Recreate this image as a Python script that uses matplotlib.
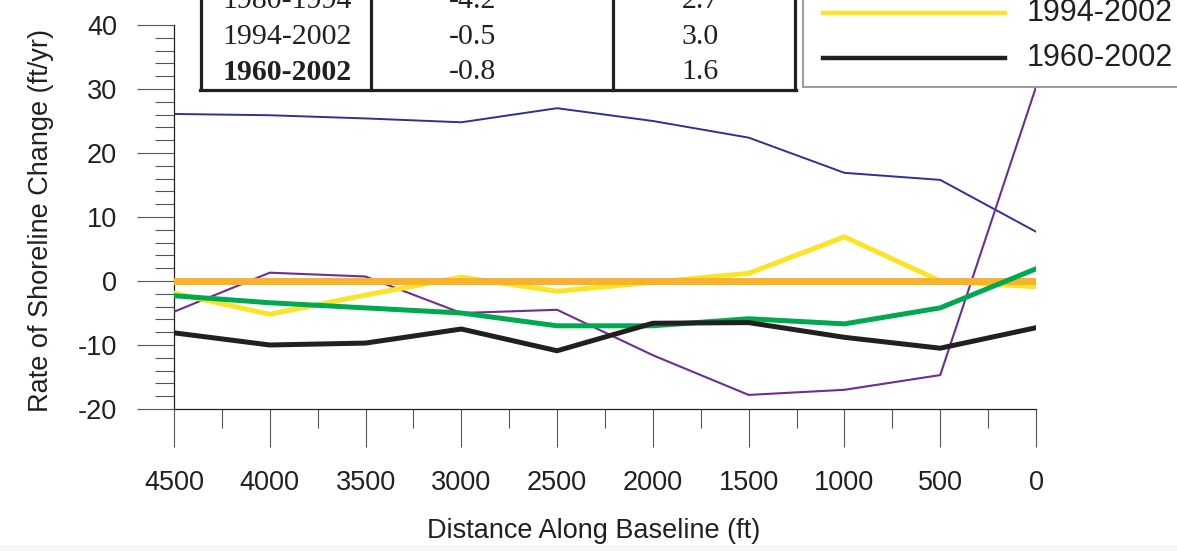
import matplotlib
matplotlib.use('Agg')
import matplotlib.pyplot as plt
from matplotlib.lines import Line2D
from matplotlib.patches import Rectangle
from matplotlib.ticker import MultipleLocator

plt.rcParams['font.family'] = ['Liberation Sans', 'DejaVu Sans']
plt.rcParams['axes.unicode_minus'] = False

# Shoreline change rates (ft/yr) along the baseline
distance = [4500, 4000, 3500, 3000, 2500, 2000, 1500, 1000, 500, 0]
rate_blue = [26.1, 25.9, 25.4, 24.8, 27.0, 25.0, 22.4, 16.9, 15.8, 7.7]
rate_purple = [-4.8, 1.3, 0.7, -5.0, -4.5, -11.6, -17.8, -17.0, -14.7, 30.3]
rate_1994_2002 = [-1.9, -5.2, -2.2, 0.6, -1.6, -0.2, 1.2, 6.9, 0.0, -0.9]
rate_green = [-2.3, -3.4, -4.2, -5.0, -7.0, -7.0, -5.9, -6.7, -4.2, 1.9]
rate_1960_2002 = [-8.1, -10.0, -9.7, -7.5, -10.9, -6.6, -6.5, -8.8, -10.5, -7.3]
rate_zero = [0, 0, 0, 0, 0, 0, 0, 0, 0, 0]

# Summary table (top rows are cut off in the source)
periods = ['1980-1994', '1994-2002', '1960-2002']
col_mean = ['-4.2', '-0.5', '-0.8']
col_other = ['2.7', '3.0', '1.6']

legend_labels = ['1994-2002', '1960-2002']
legend_colors = ['#f9e42a', '#231f20']

W, H = 1177, 551
INK = '#231f20'


def fx(x):
    return x / W


def fy(y):
    return 1 - y / H


fig = plt.figure(figsize=(W / 100, H / 100), dpi=100)
ax = fig.add_axes([fx(174), fy(409), (1036 - 174) / W, (409 - 25) / H])

ax.plot(distance, rate_blue, color='#2e3192', lw=1.4, zorder=3)
ax.plot(distance, rate_purple, color='#6f2c91', lw=1.5, zorder=3)
ax.plot(distance, rate_1994_2002, color='#f9e42a', lw=3.6, zorder=4)
ax.plot(distance, rate_zero, color='#f6b22c', lw=5.0, zorder=5)
ax.plot(distance, rate_green, color='#00a94f', lw=3.6, zorder=6)
ax.plot(distance, rate_1960_2002, color=INK, lw=3.6, zorder=7)

ax.set_xlim(4500, 0)
ax.set_ylim(-20, 40)
ax.xaxis.set_major_locator(MultipleLocator(500))
ax.xaxis.set_minor_locator(MultipleLocator(250))
ax.yaxis.set_major_locator(MultipleLocator(10))
ax.yaxis.set_minor_locator(MultipleLocator(2))

for side in ['top', 'right']:
    ax.spines[side].set_visible(False)
for side in ['left', 'bottom']:
    ax.spines[side].set_color(INK)
    ax.spines[side].set_linewidth(0.9)

ax.tick_params(axis='both', which='both', direction='out', color='#555555',
               width=0.8, labelcolor=INK, labelsize=19.5)
ax.tick_params(axis='y', which='major', length=27, pad=14)
ax.tick_params(axis='y', which='minor', length=13.5)
ax.tick_params(axis='x', which='major', length=27, pad=17)
ax.tick_params(axis='x', which='minor', length=13.5)

fig.text(fx(41), fy(221), 'Rate of Shoreline Change (ft/yr)', rotation=90,
         ha='center', va='center', fontsize=19.5, color=INK)
fig.text(fx(594), fy(531), 'Distance Along Baseline (ft)',
         ha='center', va='center', fontsize=19.5, color=INK)

# Table box
fig.patches.append(Rectangle((fx(201), fy(89.5)), fx(795) - fx(201), 1,
                             transform=fig.transFigure, facecolor='white',
                             edgecolor='none', zorder=8))
for x in [201, 371, 613, 795]:
    fig.lines.append(Line2D([fx(x), fx(x)], [fy(89.5), 1.2], transform=fig.transFigure,
                            color=INK, lw=2.3, zorder=9))
fig.lines.append(Line2D([fx(200), fx(796)], [fy(89.5), fy(89.5)], transform=fig.transFigure,
                        color=INK, lw=2.3, zorder=9))
row_y = [1, 37, 72]
for i, (p, a, b) in enumerate(zip(periods, col_mean, col_other)):
    weight = 'bold' if i == len(periods) - 1 else 'normal'
    fig.text(fx(287), fy(row_y[i]), p, ha='center', va='center', fontsize=21.5,
             family='Liberation Serif', weight=weight, color=INK, zorder=10)
    fig.text(fx(473), fy(row_y[i]), a, ha='center', va='center', fontsize=21.5,
             family='Liberation Serif', color=INK, zorder=10)
    fig.text(fx(700), fy(row_y[i]), b, ha='center', va='center', fontsize=21.5,
             family='Liberation Serif', color=INK, zorder=10)

# Legend box (top part cut off)
fig.patches.append(Rectangle((fx(803), fy(87)), 1, 1, transform=fig.transFigure,
                             facecolor='white', edgecolor='#8a8a8a', lw=1.2, zorder=8))
leg_y = [13, 58]
for lab, col, y in zip(legend_labels, legend_colors, leg_y):
    fig.lines.append(Line2D([fx(823), fx(1005)], [fy(y), fy(y)], transform=fig.transFigure,
                            color=col, lw=3.2, zorder=9))
    fig.text(fx(1027), fy(y), lab, ha='left', va='center', fontsize=22,
             color=INK, zorder=10)

# faint page edge at the bottom
fig.patches.append(Rectangle((0, 0), 1, fy(545), transform=fig.transFigure,
                             facecolor='#f6f6f6', edgecolor='none', zorder=0))

fig.savefig('out.png', dpi=100)
